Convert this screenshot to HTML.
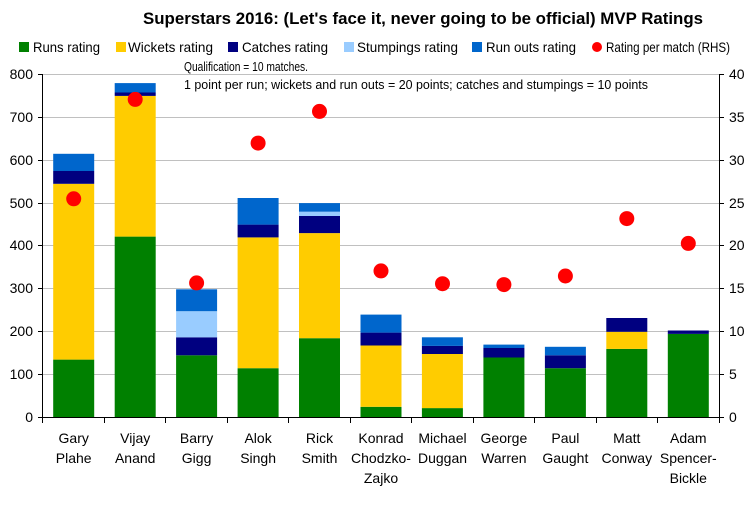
<!DOCTYPE html>
<html><head><meta charset="utf-8"><style>
body{margin:0;background:#fff;}
svg{display:block;font-family:"Liberation Sans",sans-serif;}
</style></head><body>
<svg width="753" height="520" xmlns="http://www.w3.org/2000/svg">
<rect width="753" height="520" fill="#fff"/>
<text x="423" y="24" font-size="17" font-weight="bold" text-anchor="middle" textLength="560" lengthAdjust="spacingAndGlyphs">Superstars 2016: (Let's face it, never going to be official) MVP Ratings</text>
<g font-size="14">
<rect x="19" y="42" width="10" height="10" fill="#008000"/><text x="33" y="52" textLength="67" lengthAdjust="spacingAndGlyphs">Runs rating</text>
<rect x="116" y="42" width="10" height="10" fill="#ffcc00"/><text x="128" y="52" textLength="85" lengthAdjust="spacingAndGlyphs">Wickets rating</text>
<rect x="228" y="42" width="10" height="10" fill="#000080"/><text x="242" y="52" textLength="86" lengthAdjust="spacingAndGlyphs">Catches rating</text>
<rect x="344" y="42" width="10" height="10" fill="#99ccff"/><text x="357" y="52" textLength="101" lengthAdjust="spacingAndGlyphs">Stumpings rating</text>
<rect x="472" y="42" width="10" height="10" fill="#0066cc"/><text x="486" y="52" textLength="90" lengthAdjust="spacingAndGlyphs">Run outs rating</text>
<circle cx="597" cy="47" r="5" fill="#ff0000"/><text x="606" y="52" textLength="124" lengthAdjust="spacingAndGlyphs">Rating per match (RHS)</text>
</g>
<g stroke="#c0c0c0" stroke-width="1">
<line x1="43" y1="374.5" x2="719" y2="374.5"/><line x1="43" y1="331.5" x2="719" y2="331.5"/>
<line x1="43" y1="288.5" x2="719" y2="288.5"/><line x1="43" y1="245.5" x2="719" y2="245.5"/>
<line x1="43" y1="203.5" x2="719" y2="203.5"/><line x1="43" y1="160.5" x2="719" y2="160.5"/>
<line x1="43" y1="117.5" x2="719" y2="117.5"/><line x1="43" y1="74.5" x2="719" y2="74.5"/>
</g>
<g>
<!-- Gary -->
<rect x="53.2" y="359.6" width="41" height="57.9" fill="#008000"/>
<rect x="53.2" y="183.8" width="41" height="175.8" fill="#ffcc00"/>
<rect x="53.2" y="171.0" width="41" height="12.8" fill="#000080"/>
<rect x="53.2" y="153.8" width="41" height="17.2" fill="#0066cc"/>
<!-- Vijay -->
<rect x="114.7" y="236.6" width="41" height="180.9" fill="#008000"/>
<rect x="114.7" y="95.9" width="41" height="140.7" fill="#ffcc00"/>
<rect x="114.7" y="92.5" width="41" height="3.4" fill="#000080"/>
<rect x="114.7" y="83.1" width="41" height="9.4" fill="#0066cc"/>
<!-- Barry -->
<rect x="176.1" y="355.3" width="41" height="62.2" fill="#008000"/>
<rect x="176.1" y="337.3" width="41" height="18" fill="#000080"/>
<rect x="176.1" y="311.2" width="41" height="26.1" fill="#99ccff"/>
<rect x="176.1" y="289.3" width="41" height="21.9" fill="#0066cc"/>
<!-- Alok -->
<rect x="237.6" y="368.2" width="41" height="49.3" fill="#008000"/>
<rect x="237.6" y="237.4" width="41" height="130.8" fill="#ffcc00"/>
<rect x="237.6" y="224.6" width="41" height="12.8" fill="#000080"/>
<rect x="237.6" y="198.0" width="41" height="26.6" fill="#0066cc"/>
<!-- Rick -->
<rect x="299.0" y="338.2" width="41" height="79.3" fill="#008000"/>
<rect x="299.0" y="233.1" width="41" height="105.1" fill="#ffcc00"/>
<rect x="299.0" y="216.0" width="41" height="17.1" fill="#000080"/>
<rect x="299.0" y="211.7" width="41" height="4.3" fill="#99ccff"/>
<rect x="299.0" y="203.1" width="41" height="8.6" fill="#0066cc"/>
<!-- Konrad -->
<rect x="360.5" y="406.8" width="41" height="10.7" fill="#008000"/>
<rect x="360.5" y="345.5" width="41" height="61.3" fill="#ffcc00"/>
<rect x="360.5" y="332.6" width="41" height="12.9" fill="#000080"/>
<rect x="360.5" y="314.6" width="41" height="18" fill="#0066cc"/>
<!-- Michael -->
<rect x="421.9" y="408.1" width="41" height="9.4" fill="#008000"/>
<rect x="421.9" y="354.0" width="41" height="54.1" fill="#ffcc00"/>
<rect x="421.9" y="345.9" width="41" height="8.1" fill="#000080"/>
<rect x="421.9" y="337.3" width="41" height="8.6" fill="#0066cc"/>
<!-- George -->
<rect x="483.4" y="357.5" width="41" height="60" fill="#008000"/>
<rect x="483.4" y="348.0" width="41" height="9.5" fill="#000080"/>
<rect x="483.4" y="344.6" width="41" height="3.4" fill="#0066cc"/>
<!-- Paul -->
<rect x="544.9" y="368.2" width="41" height="49.3" fill="#008000"/>
<rect x="544.9" y="355.3" width="41" height="12.9" fill="#000080"/>
<rect x="544.9" y="346.8" width="41" height="8.5" fill="#0066cc"/>
<!-- Matt -->
<rect x="606.3" y="348.9" width="41" height="68.6" fill="#008000"/>
<rect x="606.3" y="331.8" width="41" height="17.1" fill="#ffcc00"/>
<rect x="606.3" y="318.0" width="41" height="13.8" fill="#000080"/>
<!-- Adam -->
<rect x="667.8" y="333.9" width="41" height="83.6" fill="#008000"/>
<rect x="667.8" y="330.5" width="41" height="3.4" fill="#000080"/>
</g>
<g fill="#ff0000">
<circle cx="73.7" cy="198.8" r="7.5"/><circle cx="135.2" cy="99.4" r="7.5"/>
<circle cx="196.6" cy="282.9" r="7.5"/><circle cx="258.1" cy="143.1" r="7.5"/>
<circle cx="319.5" cy="111.4" r="7.5"/><circle cx="381" cy="270.9" r="7.5"/>
<circle cx="442.5" cy="283.7" r="7.5"/><circle cx="503.9" cy="284.6" r="7.5"/>
<circle cx="565.4" cy="276.0" r="7.5"/><circle cx="626.8" cy="218.6" r="7.5"/>
<circle cx="688.3" cy="243.4" r="7.5"/>
</g>
<g font-size="12.5">
<text x="184" y="71" textLength="124" lengthAdjust="spacingAndGlyphs">Qualification = 10 matches.</text>
<text x="184" y="89" textLength="464" lengthAdjust="spacingAndGlyphs">1 point per run; wickets and run outs = 20 points; catches and stumpings = 10 points</text>
</g>
<g stroke="#000" stroke-width="1">
<line x1="42.5" y1="74" x2="42.5" y2="418"/><line x1="719.5" y1="74" x2="719.5" y2="418"/>
<line x1="42" y1="417.5" x2="720" y2="417.5"/>
<line x1="42.5" y1="417" x2="42.5" y2="423"/><line x1="104.5" y1="417" x2="104.5" y2="423"/>
<line x1="165.5" y1="417" x2="165.5" y2="423"/><line x1="227.5" y1="417" x2="227.5" y2="423"/>
<line x1="288.5" y1="417" x2="288.5" y2="423"/><line x1="350.5" y1="417" x2="350.5" y2="423"/>
<line x1="411.5" y1="417" x2="411.5" y2="423"/><line x1="473.5" y1="417" x2="473.5" y2="423"/>
<line x1="534.5" y1="417" x2="534.5" y2="423"/><line x1="596.5" y1="417" x2="596.5" y2="423"/>
<line x1="657.5" y1="417" x2="657.5" y2="423"/><line x1="719.5" y1="417" x2="719.5" y2="423"/>
<line x1="38" y1="417.5" x2="43" y2="417.5"/><line x1="38" y1="374.5" x2="43" y2="374.5"/>
<line x1="38" y1="331.5" x2="43" y2="331.5"/><line x1="38" y1="288.5" x2="43" y2="288.5"/>
<line x1="38" y1="245.5" x2="43" y2="245.5"/><line x1="38" y1="203.5" x2="43" y2="203.5"/>
<line x1="38" y1="160.5" x2="43" y2="160.5"/><line x1="38" y1="117.5" x2="43" y2="117.5"/>
<line x1="38" y1="74.5" x2="43" y2="74.5"/>
<line x1="719" y1="417.5" x2="724" y2="417.5"/><line x1="719" y1="374.5" x2="724" y2="374.5"/>
<line x1="719" y1="331.5" x2="724" y2="331.5"/><line x1="719" y1="288.5" x2="724" y2="288.5"/>
<line x1="719" y1="245.5" x2="724" y2="245.5"/><line x1="719" y1="203.5" x2="724" y2="203.5"/>
<line x1="719" y1="160.5" x2="724" y2="160.5"/><line x1="719" y1="117.5" x2="724" y2="117.5"/>
<line x1="719" y1="74.5" x2="724" y2="74.5"/>
</g>
<g font-size="14" text-anchor="end">
<text x="33" y="422">0</text><text x="33" y="379">100</text><text x="33" y="336">200</text>
<text x="33" y="293">300</text><text x="33" y="250">400</text><text x="33" y="208">500</text>
<text x="33" y="165">600</text><text x="33" y="122">700</text><text x="33" y="79">800</text>
</g>
<g font-size="14">
<text x="729" y="422">0</text><text x="729" y="379">5</text><text x="729" y="336">10</text>
<text x="729" y="293">15</text><text x="729" y="250">20</text><text x="729" y="208">25</text>
<text x="729" y="165">30</text><text x="729" y="122">35</text><text x="729" y="79">40</text>
</g>
<g font-size="14" text-anchor="middle">
<text x="73.7" y="443">Gary</text><text x="73.7" y="463">Plahe</text>
<text x="135.2" y="443">Vijay</text><text x="135.2" y="463">Anand</text>
<text x="196.6" y="443">Barry</text><text x="196.6" y="463">Gigg</text>
<text x="258.1" y="443">Alok</text><text x="258.1" y="463">Singh</text>
<text x="319.5" y="443">Rick</text><text x="319.5" y="463">Smith</text>
<text x="381" y="443">Konrad</text><text x="381" y="463">Chodzko-</text><text x="381" y="483">Zajko</text>
<text x="442.5" y="443">Michael</text><text x="442.5" y="463">Duggan</text>
<text x="503.9" y="443">George</text><text x="503.9" y="463">Warren</text>
<text x="565.4" y="443">Paul</text><text x="565.4" y="463">Gaught</text>
<text x="626.8" y="443">Matt</text><text x="626.8" y="463">Conway</text>
<text x="688.3" y="443">Adam</text><text x="688.3" y="463">Spencer-</text><text x="688.3" y="483">Bickle</text>
</g>
</svg>
</body></html>
